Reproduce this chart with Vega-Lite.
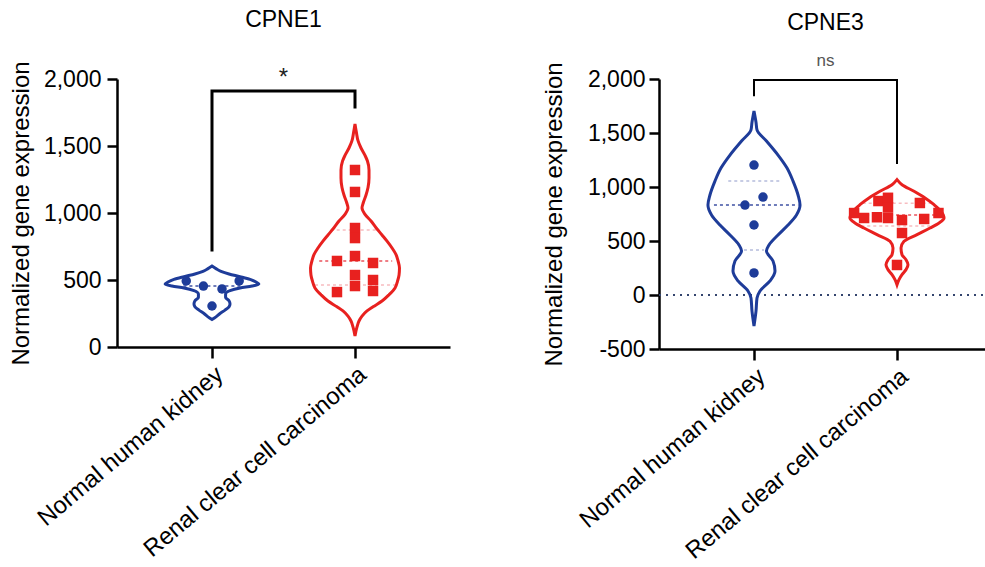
{
  "$schema": "https://vega.github.io/schema/vega-lite/v6.json",
  "padding": {"left": 9, "top": 8, "right": 0, "bottom": 0},
  "background": "white",
  "spacing": 92,
  "config": {
    "font": "Liberation Sans",
    "view": {"stroke": null},
    "axis": {"grid": false, "domainColor": "black", "tickColor": "black", "labelColor": "black", "titleColor": "black", "labelFont": "Liberation Sans", "titleFont": "Liberation Sans", "labelFontSize": 23, "titleFontSize": 24, "titleFontWeight": "normal", "domainWidth": 2.5, "tickWidth": 2.5, "labelLimit": 400},
    "title": {"font": "Liberation Sans", "fontSize": 23, "fontWeight": "normal", "color": "black", "anchor": "middle", "frame": "group"}
  },
  "datasets": {
    "vio": [
      {"p": 1, "g": "N", "v": 604, "x": 1.0, "x2": 1.0},
      {"p": 1, "g": "N", "v": 585, "x": 0.972, "x2": 1.028},
      {"p": 1, "g": "N", "v": 565, "x": 0.937, "x2": 1.063},
      {"p": 1, "g": "N", "v": 545, "x": 0.881, "x2": 1.119},
      {"p": 1, "g": "N", "v": 525, "x": 0.804, "x2": 1.196},
      {"p": 1, "g": "N", "v": 505, "x": 0.734, "x2": 1.266},
      {"p": 1, "g": "N", "v": 485, "x": 0.692, "x2": 1.308},
      {"p": 1, "g": "N", "v": 470, "x": 0.672, "x2": 1.328},
      {"p": 1, "g": "N", "v": 455, "x": 0.72, "x2": 1.28},
      {"p": 1, "g": "N", "v": 440, "x": 0.804, "x2": 1.196},
      {"p": 1, "g": "N", "v": 420, "x": 0.874, "x2": 1.126},
      {"p": 1, "g": "N", "v": 395, "x": 0.905, "x2": 1.095},
      {"p": 1, "g": "N", "v": 370, "x": 0.905, "x2": 1.095},
      {"p": 1, "g": "N", "v": 345, "x": 0.881, "x2": 1.119},
      {"p": 1, "g": "N", "v": 320, "x": 0.874, "x2": 1.126},
      {"p": 1, "g": "N", "v": 300, "x": 0.881, "x2": 1.119},
      {"p": 1, "g": "N", "v": 275, "x": 0.909, "x2": 1.091},
      {"p": 1, "g": "N", "v": 250, "x": 0.944, "x2": 1.056},
      {"p": 1, "g": "N", "v": 225, "x": 0.972, "x2": 1.028},
      {"p": 1, "g": "N", "v": 205, "x": 1.0, "x2": 1.0},
      {"p": 1, "g": "R", "v": 1664, "x": 2.0, "x2": 2.0},
      {"p": 1, "g": "R", "v": 1600, "x": 1.99, "x2": 2.01},
      {"p": 1, "g": "R", "v": 1540, "x": 1.979, "x2": 2.021},
      {"p": 1, "g": "R", "v": 1485, "x": 1.958, "x2": 2.042},
      {"p": 1, "g": "R", "v": 1430, "x": 1.93, "x2": 2.07},
      {"p": 1, "g": "R", "v": 1388, "x": 1.913, "x2": 2.087},
      {"p": 1, "g": "R", "v": 1320, "x": 1.902, "x2": 2.098},
      {"p": 1, "g": "R", "v": 1261, "x": 1.902, "x2": 2.098},
      {"p": 1, "g": "R", "v": 1190, "x": 1.909, "x2": 2.091},
      {"p": 1, "g": "R", "v": 1134, "x": 1.923, "x2": 2.077},
      {"p": 1, "g": "R", "v": 1080, "x": 1.941, "x2": 2.059},
      {"p": 1, "g": "R", "v": 1037, "x": 1.951, "x2": 2.049},
      {"p": 1, "g": "R", "v": 990, "x": 1.93, "x2": 2.07},
      {"p": 1, "g": "R", "v": 940, "x": 1.888, "x2": 2.112},
      {"p": 1, "g": "R", "v": 890, "x": 1.853, "x2": 2.147},
      {"p": 1, "g": "R", "v": 836, "x": 1.811, "x2": 2.189},
      {"p": 1, "g": "R", "v": 790, "x": 1.776, "x2": 2.224},
      {"p": 1, "g": "R", "v": 739, "x": 1.741, "x2": 2.259},
      {"p": 1, "g": "R", "v": 690, "x": 1.713, "x2": 2.287},
      {"p": 1, "g": "R", "v": 642, "x": 1.699, "x2": 2.301},
      {"p": 1, "g": "R", "v": 590, "x": 1.689, "x2": 2.311},
      {"p": 1, "g": "R", "v": 537, "x": 1.692, "x2": 2.308},
      {"p": 1, "g": "R", "v": 490, "x": 1.703, "x2": 2.297},
      {"p": 1, "g": "R", "v": 440, "x": 1.72, "x2": 2.28},
      {"p": 1, "g": "R", "v": 390, "x": 1.762, "x2": 2.238},
      {"p": 1, "g": "R", "v": 343, "x": 1.811, "x2": 2.189},
      {"p": 1, "g": "R", "v": 300, "x": 1.874, "x2": 2.126},
      {"p": 1, "g": "R", "v": 269, "x": 1.916, "x2": 2.084},
      {"p": 1, "g": "R", "v": 230, "x": 1.951, "x2": 2.049},
      {"p": 1, "g": "R", "v": 194, "x": 1.972, "x2": 2.028},
      {"p": 1, "g": "R", "v": 150, "x": 1.986, "x2": 2.014},
      {"p": 1, "g": "R", "v": 82, "x": 2.0, "x2": 2.0},
      {"p": 2, "g": "N", "v": 1704, "x": 1.0, "x2": 1.0},
      {"p": 2, "g": "N", "v": 1600, "x": 0.986, "x2": 1.014},
      {"p": 2, "g": "N", "v": 1528, "x": 0.979, "x2": 1.021},
      {"p": 2, "g": "N", "v": 1426, "x": 0.913, "x2": 1.087},
      {"p": 2, "g": "N", "v": 1296, "x": 0.832, "x2": 1.168},
      {"p": 2, "g": "N", "v": 1176, "x": 0.769, "x2": 1.231},
      {"p": 2, "g": "N", "v": 1055, "x": 0.727, "x2": 1.273},
      {"p": 2, "g": "N", "v": 926, "x": 0.692, "x2": 1.308},
      {"p": 2, "g": "N", "v": 833, "x": 0.678, "x2": 1.322},
      {"p": 2, "g": "N", "v": 741, "x": 0.703, "x2": 1.297},
      {"p": 2, "g": "N", "v": 648, "x": 0.762, "x2": 1.238},
      {"p": 2, "g": "N", "v": 556, "x": 0.832, "x2": 1.168},
      {"p": 2, "g": "N", "v": 463, "x": 0.895, "x2": 1.105},
      {"p": 2, "g": "N", "v": 407, "x": 0.913, "x2": 1.087},
      {"p": 2, "g": "N", "v": 315, "x": 0.867, "x2": 1.133},
      {"p": 2, "g": "N", "v": 222, "x": 0.853, "x2": 1.147},
      {"p": 2, "g": "N", "v": 130, "x": 0.888, "x2": 1.112},
      {"p": 2, "g": "N", "v": 37, "x": 0.958, "x2": 1.042},
      {"p": 2, "g": "N", "v": -28, "x": 0.979, "x2": 1.021},
      {"p": 2, "g": "N", "v": -150, "x": 0.986, "x2": 1.014},
      {"p": 2, "g": "N", "v": -287, "x": 1.0, "x2": 1.0},
      {"p": 2, "g": "R", "v": 1068, "x": 2.0, "x2": 2.0},
      {"p": 2, "g": "R", "v": 1021, "x": 1.965, "x2": 2.035},
      {"p": 2, "g": "R", "v": 960, "x": 1.881, "x2": 2.119},
      {"p": 2, "g": "R", "v": 898, "x": 1.804, "x2": 2.196},
      {"p": 2, "g": "R", "v": 836, "x": 1.741, "x2": 2.259},
      {"p": 2, "g": "R", "v": 775, "x": 1.692, "x2": 2.308},
      {"p": 2, "g": "R", "v": 713, "x": 1.671, "x2": 2.329},
      {"p": 2, "g": "R", "v": 667, "x": 1.706, "x2": 2.294},
      {"p": 2, "g": "R", "v": 620, "x": 1.769, "x2": 2.231},
      {"p": 2, "g": "R", "v": 559, "x": 1.86, "x2": 2.14},
      {"p": 2, "g": "R", "v": 497, "x": 1.951, "x2": 2.049},
      {"p": 2, "g": "R", "v": 435, "x": 1.972, "x2": 2.028},
      {"p": 2, "g": "R", "v": 373, "x": 1.965, "x2": 2.035},
      {"p": 2, "g": "R", "v": 327, "x": 1.937, "x2": 2.063},
      {"p": 2, "g": "R", "v": 281, "x": 1.923, "x2": 2.077},
      {"p": 2, "g": "R", "v": 235, "x": 1.937, "x2": 2.063},
      {"p": 2, "g": "R", "v": 188, "x": 1.965, "x2": 2.035},
      {"p": 2, "g": "R", "v": 142, "x": 1.986, "x2": 2.014},
      {"p": 2, "g": "R", "v": 95, "x": 2.0, "x2": 2.0}
    ],
    "pts": [
      {"p": 1, "g": "N", "x": 0.82, "v": 493},
      {"p": 1, "g": "N", "x": 0.94, "v": 455},
      {"p": 1, "g": "N", "x": 1.07, "v": 433},
      {"p": 1, "g": "N", "x": 1.19, "v": 493},
      {"p": 1, "g": "N", "x": 1.0, "v": 306},
      {"p": 1, "g": "R", "x": 2.0, "v": 1321},
      {"p": 1, "g": "R", "x": 2.0, "v": 1157},
      {"p": 1, "g": "R", "x": 2.0, "v": 888},
      {"p": 1, "g": "R", "x": 2.0, "v": 813},
      {"p": 1, "g": "R", "x": 2.0, "v": 679},
      {"p": 1, "g": "R", "x": 2.0, "v": 537},
      {"p": 1, "g": "R", "x": 2.0, "v": 455},
      {"p": 1, "g": "R", "x": 1.874, "v": 642},
      {"p": 1, "g": "R", "x": 1.874, "v": 410},
      {"p": 1, "g": "R", "x": 2.126, "v": 627},
      {"p": 1, "g": "R", "x": 2.126, "v": 500},
      {"p": 1, "g": "R", "x": 2.126, "v": 418},
      {"p": 2, "g": "N", "x": 1.0, "v": 1203},
      {"p": 2, "g": "N", "x": 1.063, "v": 907},
      {"p": 2, "g": "N", "x": 0.937, "v": 833},
      {"p": 2, "g": "N", "x": 1.0, "v": 648},
      {"p": 2, "g": "N", "x": 1.0, "v": 204},
      {"p": 2, "g": "R", "x": 1.7, "v": 759},
      {"p": 2, "g": "R", "x": 1.77, "v": 713},
      {"p": 2, "g": "R", "x": 1.87, "v": 870},
      {"p": 2, "g": "R", "x": 1.86, "v": 720},
      {"p": 2, "g": "R", "x": 1.937, "v": 900},
      {"p": 2, "g": "R", "x": 1.937, "v": 810},
      {"p": 2, "g": "R", "x": 1.937, "v": 713},
      {"p": 2, "g": "R", "x": 2.035, "v": 694},
      {"p": 2, "g": "R", "x": 2.035, "v": 574},
      {"p": 2, "g": "R", "x": 2.16, "v": 852},
      {"p": 2, "g": "R", "x": 2.19, "v": 704},
      {"p": 2, "g": "R", "x": 2.29, "v": 759},
      {"p": 2, "g": "R", "x": 2.0, "v": 278}
    ],
    "med": [
      {"p": 1, "g": "N", "k": "median", "v": 455, "x": 0.8, "x2": 1.2},
      {"p": 1, "g": "R", "k": "median", "v": 642, "x": 1.75, "x2": 2.26},
      {"p": 1, "g": "R", "k": "quartile", "v": 873, "x": 1.83, "x2": 2.17},
      {"p": 1, "g": "R", "k": "quartile", "v": 463, "x": 1.72, "x2": 2.28},
      {"p": 2, "g": "N", "k": "median", "v": 833, "x": 0.72, "x2": 1.31},
      {"p": 2, "g": "N", "k": "quartile", "v": 1055, "x": 0.82, "x2": 1.18},
      {"p": 2, "g": "N", "k": "quartile", "v": 417, "x": 0.93, "x2": 1.07},
      {"p": 2, "g": "R", "k": "median", "v": 740, "x": 1.7, "x2": 2.3},
      {"p": 2, "g": "R", "k": "quartile", "v": 850, "x": 1.76, "x2": 2.24},
      {"p": 2, "g": "R", "k": "quartile", "v": 640, "x": 1.75, "x2": 2.25}
    ],
    "brk": [
      {"p": 1, "x": 1, "v": 724, "o": 0},
      {"p": 1, "x": 1, "v": 1910, "o": 1},
      {"p": 1, "x": 2, "v": 1910, "o": 2},
      {"p": 1, "x": 2, "v": 1791, "o": 3},
      {"p": 2, "x": 1, "v": 1850, "o": 0},
      {"p": 2, "x": 1, "v": 1990, "o": 1},
      {"p": 2, "x": 2, "v": 1990, "o": 2},
      {"p": 2, "x": 2, "v": 1222, "o": 3}
    ],
    "sig": [
      {"p": 1, "x": 1.5, "v": 2035, "t": "*"},
      {"p": 2, "x": 1.5, "v": 2167, "t": "ns"}
    ],
    "zero": [
      {"p": 2, "v": 0, "x": 0.3357, "x2": 2.6643}
    ]
  },
  "hconcat": [
    {
      "width": 333,
      "height": 268,
      "title": {"text": "CPNE1", "offset": 29},
      "encoding": {
        "x": {"field": "x", "type": "quantitative", "scale": {"domain": [0.3357, 2.6643], "nice": false, "zero": false},
          "axis": {"values": [1, 2], "labelExpr": "datum.value == 1 ? 'Normal human kidney' : 'Renal clear cell carcinoma'", "labelAngle": -40, "labelAlign": "right", "labelBaseline": "top", "labelFontSize": 24, "tickSize": 11, "labelPadding": 4, "title": null}},
        "y": {"field": "v", "type": "quantitative", "scale": {"domain": [0, 2000], "nice": false},
          "axis": {"values": [0, 500, 1000, 1500, 2000], "format": ",.0f", "tickSize": 10, "labelPadding": 6, "title": "Normalized gene expression", "titlePadding": 10}}
      },
      "layer": [
        {
          "data": {"name": "med"},
          "transform": [{"filter": "datum.p == 1"}],
          "mark": {"type": "rule", "strokeDash": [3, 3], "strokeWidth": 1.5},
          "encoding": {
            "x2": {"field": "x2"},
            "color": {"field": "g", "type": "nominal", "scale": {"domain": ["N", "R"], "range": ["#2a3f9a", "#e8404a"]}, "legend": null},
            "opacity": {"field": "k", "type": "nominal", "scale": {"domain": ["median", "quartile"], "range": [0.9, 0.35]}, "legend": null}
          }
        },
        {
          "data": {"name": "vio"},
          "transform": [{"filter": "datum.p == 1"}],
          "mark": {"type": "area", "orient": "horizontal", "interpolate": "monotone", "fillOpacity": 0, "strokeWidth": 3},
          "encoding": {
            "x2": {"field": "x2"},
            "detail": {"field": "g"},
            "stroke": {"field": "g", "type": "nominal", "scale": {"domain": ["N", "R"], "range": ["#1e3c99", "#e8211f"]}, "legend": null}
          }
        },
        {
          "data": {"name": "pts"},
          "transform": [{"filter": "datum.p == 1"}],
          "mark": {"type": "point", "filled": true, "opacity": 1},
          "encoding": {
            "shape": {"field": "g", "type": "nominal", "scale": {"domain": ["N", "R"], "range": ["circle", "square"]}, "legend": null},
            "fill": {"field": "g", "type": "nominal", "scale": {"domain": ["N", "R"], "range": ["#1e3c99", "#e8211f"]}, "legend": null},
            "size": {"field": "g", "type": "nominal", "scale": {"domain": ["N", "R"], "range": [90, 110]}, "legend": null}
          }
        },
        {
          "data": {"name": "brk"},
          "transform": [{"filter": "datum.p == 1"}],
          "mark": {"type": "line", "color": "black", "strokeWidth": 3, "strokeCap": "square"},
          "encoding": {
            "order": {"field": "o"}
          }
        },
        {
          "data": {"name": "sig"},
          "transform": [{"filter": "datum.p == 1"}],
          "mark": {"type": "text", "fontSize": 24, "color": "#222", "baseline": "middle", "dy": 4},
          "encoding": {
            "text": {"field": "t"}
          }
        }
      ]
    },
    {
      "width": 333,
      "height": 270,
      "title": {"text": "CPNE3", "offset": 17},
      "encoding": {
        "x": {"field": "x", "type": "quantitative", "scale": {"domain": [0.3357, 2.6643], "nice": false, "zero": false},
          "axis": {"values": [1, 2], "labelExpr": "datum.value == 1 ? 'Normal human kidney' : 'Renal clear cell carcinoma'", "labelAngle": -40, "labelAlign": "right", "labelBaseline": "top", "labelFontSize": 24, "tickSize": 11, "labelPadding": 4, "title": null}},
        "y": {"field": "v", "type": "quantitative", "scale": {"domain": [-500, 2000], "nice": false},
          "axis": {"values": [-500, 0, 500, 1000, 1500, 2000], "format": ",.0f", "labelExpr": "replace(datum.label, '\u2212', '-')", "tickSize": 10, "labelPadding": 4, "title": "Normalized gene expression", "titlePadding": 21}}
      },
      "layer": [
        {
          "data": {"name": "zero"},
          "mark": {"type": "rule", "strokeDash": [2, 5], "strokeWidth": 2, "color": "#34456e"},
          "encoding": {
            "x2": {"field": "x2"}
          }
        },
        {
          "data": {"name": "med"},
          "transform": [{"filter": "datum.p == 2"}],
          "mark": {"type": "rule", "strokeDash": [3, 3], "strokeWidth": 1.5},
          "encoding": {
            "x2": {"field": "x2"},
            "color": {"field": "g", "type": "nominal", "scale": {"domain": ["N", "R"], "range": ["#2a3f9a", "#e8404a"]}, "legend": null},
            "opacity": {"field": "k", "type": "nominal", "scale": {"domain": ["median", "quartile"], "range": [0.9, 0.3]}, "legend": null}
          }
        },
        {
          "data": {"name": "vio"},
          "transform": [{"filter": "datum.p == 2"}],
          "mark": {"type": "area", "orient": "horizontal", "interpolate": "monotone", "fillOpacity": 0, "strokeWidth": 3},
          "encoding": {
            "x2": {"field": "x2"},
            "detail": {"field": "g"},
            "stroke": {"field": "g", "type": "nominal", "scale": {"domain": ["N", "R"], "range": ["#1e3c99", "#e8211f"]}, "legend": null}
          }
        },
        {
          "data": {"name": "pts"},
          "transform": [{"filter": "datum.p == 2"}],
          "mark": {"type": "point", "filled": true, "opacity": 1},
          "encoding": {
            "shape": {"field": "g", "type": "nominal", "scale": {"domain": ["N", "R"], "range": ["circle", "square"]}, "legend": null},
            "fill": {"field": "g", "type": "nominal", "scale": {"domain": ["N", "R"], "range": ["#1e3c99", "#e8211f"]}, "legend": null},
            "size": {"field": "g", "type": "nominal", "scale": {"domain": ["N", "R"], "range": [90, 100]}, "legend": null}
          }
        },
        {
          "data": {"name": "brk"},
          "transform": [{"filter": "datum.p == 2"}],
          "mark": {"type": "line", "color": "black", "strokeWidth": 2, "strokeCap": "square"},
          "encoding": {
            "order": {"field": "o"}
          }
        },
        {
          "data": {"name": "sig"},
          "transform": [{"filter": "datum.p == 2"}],
          "mark": {"type": "text", "fontSize": 17, "color": "#555", "baseline": "middle"},
          "encoding": {
            "text": {"field": "t"}
          }
        }
      ]
    }
  ]
}
